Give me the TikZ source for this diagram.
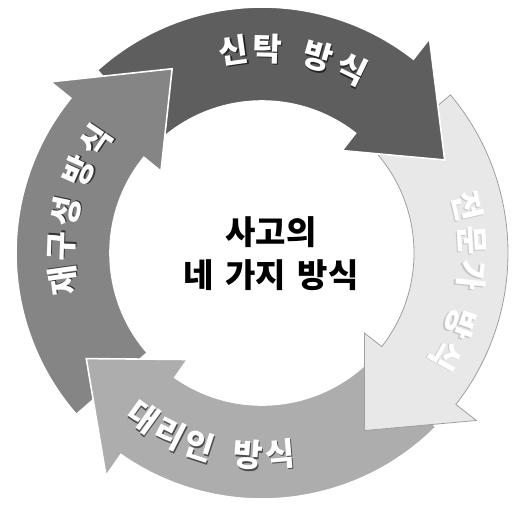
\documentclass[tikz,border=0pt]{standalone}
\usepackage{fontspec}
\newfontfamily\kr{Noto Sans CJK KR}
\definecolor{cTop}{HTML}{5E5E5E}
\definecolor{cLeft}{HTML}{858585}
\definecolor{cBottom}{HTML}{ADADAD}
\definecolor{cRight}{HTML}{E8E8E8}
\newcommand{\drawarrow}[4]{%
  \path[#1] (#2:246pt) arc[start angle=#2, end angle=#3, radius=246pt]
    -- (#3:272pt) -- (#4:205pt) -- (#3:130pt) -- (#3:152pt)
    arc[start angle=#3, end angle=#2, radius=152pt] -- cycle;}
% white glyph with a dark drop shadow of colour #1
\newcommand{\shadowed}[2]{%
  \makebox[0pt][l]{\hspace{1.3pt}\raisebox{-1.3pt}{\textcolor{#1}{#2}}}\textcolor{white}{#2}}
\newcommand{\arcword}[5]{%
  \foreach \a/\c [count=\i] in {#2} {%
    \node[chartxt, rotate=\a+#4] (#1c\i) at (\a:#3) {\shadowed{#5}{\c}};
  }}
\begin{document}
\begin{tikzpicture}[x=1pt,y=1pt,
  arrowshape/.style={draw=white, line width=1.6pt, line join=miter},
  chartxt/.style={font=\kr\bfseries\fontsize{32}{32}\selectfont, inner sep=0pt},
  titletxt/.style={font=\kr\bfseries\fontsize{33}{43}\selectfont, align=center, inner sep=0pt}]
\useasboundingbox[fill=white] (0,0) rectangle (513,-507);
\coordinate (C) at (262,-253);
\begin{scope}[shift={(C)}]
  % arrows: left, bottom, right, top
  \drawarrow{arrowshape, fill=cLeft}{221}{141}{116}
  \drawarrow{arrowshape, fill=cBottom}{315}{235}{211}
  \drawarrow{draw=gray!75, line width=0.8pt, fill=cRight}{40}{-38}{-60}
  \drawarrow{arrowshape, fill=cTop}{132}{52}{27}
  % left head on top of the top arrow's tail
  \begin{scope}
    \clip (0,0) -- (150:300pt) arc[start angle=150, end angle=100, radius=300pt] -- cycle;
    \drawarrow{arrowshape, fill=cLeft}{221}{141}{116}
  \end{scope}
  % texts along the arrows
  \arcword{t}{98/신,88.5/탁,74/방,64/식}{204pt}{-90}{black!85}
  \arcword{r}{13/전,3.5/문,-6/가,-19.5/방,-29/식}{210pt}{-90}{gray!45}
  \arcword{b}{234/대,243/리,252/인,266/방,275/식}{203pt}{90}{black!70}
  \arcword{l}{188/재,178/구,168/성,156/방,146/식}{200pt}{-90}{black!80}
\end{scope}
\node[titletxt] (title) at (271,-254) {사고의\\네\hspace{0.35em}가지\hspace{0.35em}방식};
\end{tikzpicture}
\end{document}
